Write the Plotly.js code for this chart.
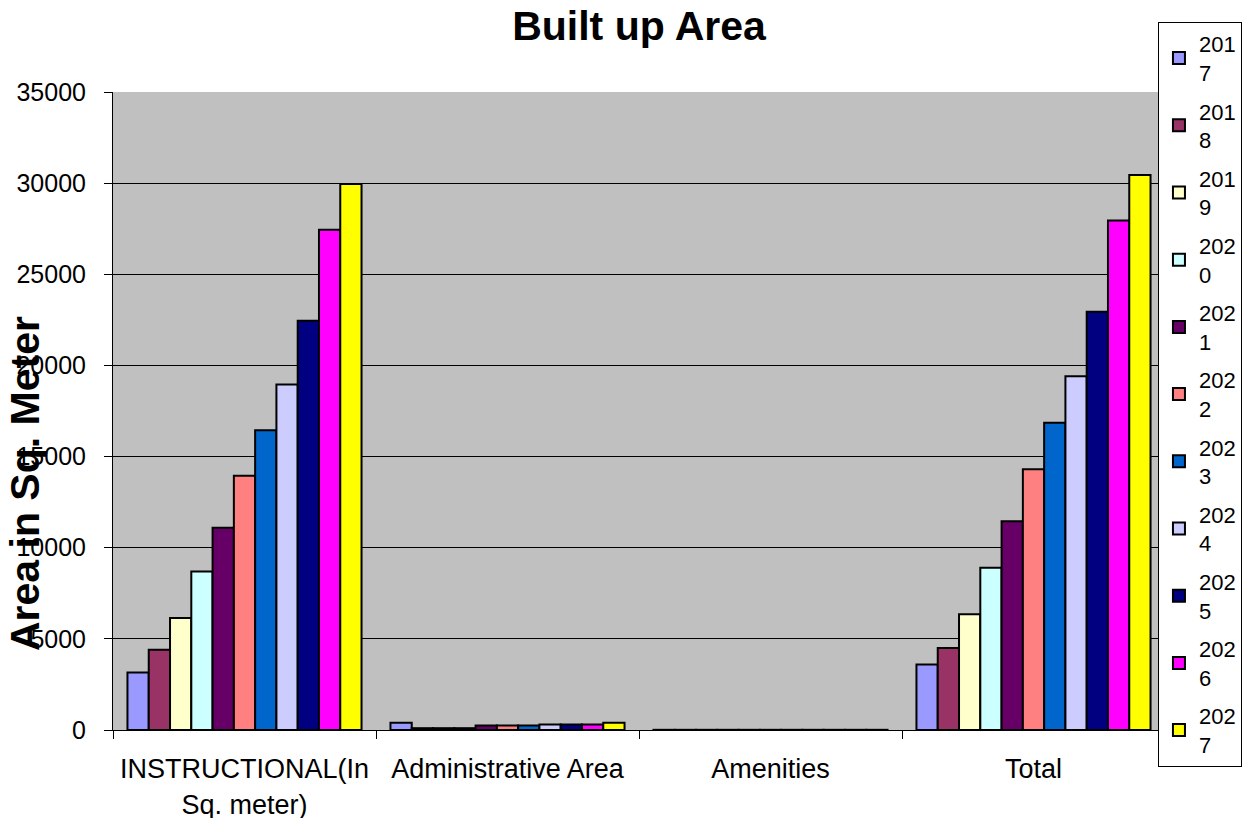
<!DOCTYPE html>
<html>
<head>
<meta charset="utf-8">
<script src="https://cdn.plot.ly/plotly-3.0.1.min.js"></script>
<style>
  html, body { margin: 0; padding: 0; background: #ffffff; }
  #chart { width: 1248px; height: 818px; }
</style>
</head>
<body>
<div id="chart"></div>
<script>
// Built-up area per category, one series per year (sq. metres)
const categories = ["INSTRUCTIONAL(In<br>Sq. meter)", "Administrative Area", "Amenities", "Total"];
const years = ["2017", "2018", "2019", "2020", "2021", "2022", "2023", "2024", "2025", "2026", "2027"];

const instructional = [3150, 4400, 6150, 8700, 11100, 13950, 16450, 18950, 22450, 27450, 29950];
const administrative = [400, 100, 100, 100, 250, 250, 250, 300, 300, 300, 400];
const amenities = [10, 10, 10, 10, 10, 10, 10, 10, 10, 10, 10];
const total = [3600, 4500, 6350, 8900, 11450, 14300, 16850, 19400, 22950, 27950, 30450];

const yearColors = ["#9999FF", "#993366", "#FFFFCC", "#CCFFFF", "#660066", "#FF8080",
                    "#0066CC", "#CCCCFF", "#000080", "#FF00FF", "#FFFF00"];

// Legend labels wrap after the third digit
const traces = years.map((yr, i) => ({
  type: "bar",
  name: yr.slice(0, 3) + "<br>" + yr.slice(3),
  legendgroup: yr,
  x: categories,
  y: [instructional[i], administrative[i], amenities[i], total[i]],
  marker: { color: yearColors[i], line: { color: "#000000", width: 2 } },
  hoverinfo: "x+y"
}));

const font = "Liberation Sans, Arial, sans-serif";

const layout = {
  width: 1248,
  height: 818,
  margin: { l: 113, r: 83, t: 92, b: 88, autoexpand: false },
  paper_bgcolor: "#ffffff",
  plot_bgcolor: "#C0C0C0",
  barmode: "group",
  bargap: 0.11,
  bargroupgap: 0,
  font: { family: font, color: "#000000" },
  title: {
    text: "<b>Built up Area</b>",
    font: { family: font, size: 41, color: "#000000" },
    x: 0.5, xref: "paper",
    y: 0.969, yref: "container", yanchor: "middle"
  },
  xaxis: {
    type: "category",
    tickson: "boundaries",
    ticks: "outside",
    ticklen: 8,
    tickcolor: "#000000",
    tickwidth: 1,
    showline: true,
    linecolor: "#000000",
    linewidth: 1,
    tickfont: { family: font, size: 27, color: "#000000" },
    ticklabelstandoff: 15
  },
  yaxis: {
    range: [0, 35000],
    dtick: 5000,
    tickformat: "d",
    ticks: "outside",
    ticklen: 8,
    tickcolor: "#000000",
    showline: true,
    linecolor: "#000000",
    linewidth: 1,
    showgrid: true,
    gridcolor: "#000000",
    gridwidth: 1,
    zeroline: false,
    tickfont: { family: font, size: 25, color: "#000000" },
    ticklabelstandoff: 13
  },
  annotations: [{
    text: "<b>Area in Sq. Meter</b>",
    textangle: -90,
    xref: "paper", yref: "paper",
    x: -0.0837, y: 0.387,
    xanchor: "center", yanchor: "middle",
    showarrow: false,
    font: { family: font, size: 41, color: "#000000" }
  }],
  showlegend: true,
  legend: {
    x: 0.9933, xanchor: "left",
    y: 1.1097, yanchor: "top",
    bgcolor: "#ffffff",
    bordercolor: "#000000",
    borderwidth: 1,
    font: { family: font, size: 22, color: "#000000" },
    tracegroupgap: 7,
    itemwidth: 30,
    maxheight: 810
  }
};

Plotly.newPlot("chart", traces, layout, { displayModeBar: false, staticPlot: true });
</script>
</body>
</html>
